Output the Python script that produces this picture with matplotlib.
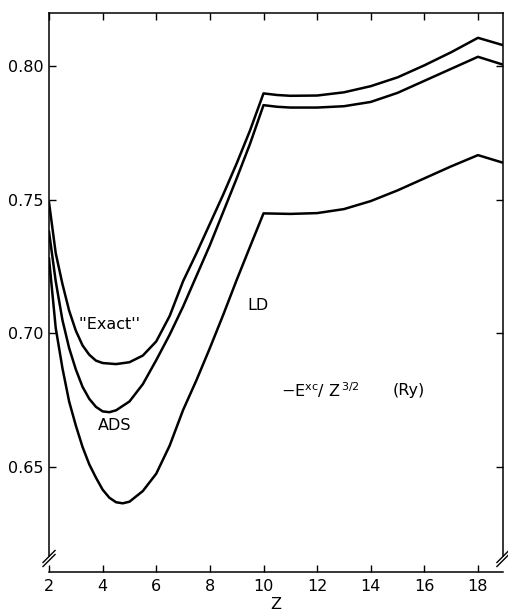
import numpy as np
import matplotlib
matplotlib.use('Agg')
import matplotlib.pyplot as plt

plt.rcParams['font.family'] = ['DejaVu Sans']
plt.rcParams['mathtext.default'] = 'regular'

# Valores: -E_xc / Z^(3/2) en Ry frente a Z
z_exact = [2.0, 2.25, 2.5, 2.75, 3.0, 3.25, 3.5, 3.75, 4.0, 4.5, 5.0, 5.5, 6.0, 6.5, 7.0,
           7.5, 8.0, 8.5, 9.0, 9.5, 10.0, 10.5, 11, 12, 13, 14, 15, 16, 17, 18, 18.95]
e_exact = [0.749, 0.730, 0.7185, 0.7085, 0.701, 0.6955, 0.692, 0.6898, 0.6889, 0.6885,
           0.6892, 0.6917, 0.697, 0.7065, 0.7195, 0.730, 0.741, 0.752, 0.7636, 0.776,
           0.7898, 0.7892, 0.7889, 0.789, 0.7902, 0.7925, 0.7958, 0.8003, 0.8052, 0.8106, 0.8078]

z_ads = [2.0, 2.25, 2.5, 2.75, 3.0, 3.25, 3.5, 3.75, 4.0, 4.25, 4.5, 5.0, 5.5, 6.0, 6.5, 7.0,
         7.5, 8.0, 8.5, 9.0, 9.5, 10.0, 10.5, 11, 12, 13, 14, 15, 16, 17, 18, 18.95]
e_ads = [0.738, 0.7195, 0.705, 0.6945, 0.6865, 0.680, 0.6755, 0.6725, 0.6708, 0.6705,
         0.6712, 0.6745, 0.681, 0.690, 0.6995, 0.710, 0.7215, 0.733, 0.7455, 0.758, 0.771,
         0.7854, 0.7848, 0.7845, 0.7845, 0.7850, 0.7866, 0.790, 0.7945, 0.799, 0.8035, 0.8005]

z_ld = [2.0, 2.25, 2.5, 2.75, 3.0, 3.25, 3.5, 3.75, 4.0, 4.25, 4.5, 4.75, 5.0, 5.5, 6.0, 6.5,
        7.0, 7.5, 8.0, 8.5, 9.0, 9.5, 10.0, 10.5, 11, 12, 13, 14, 15, 16, 17, 18, 18.95]
e_ld = [0.728, 0.702, 0.687, 0.6745, 0.6655, 0.6575, 0.651, 0.646, 0.6415, 0.6385, 0.6368,
        0.6364, 0.637, 0.641, 0.6475, 0.658, 0.6713, 0.6825, 0.6945, 0.707, 0.720, 0.7325,
        0.7449, 0.7448, 0.7447, 0.745, 0.7465, 0.7495, 0.7535, 0.758, 0.7625, 0.7667, 0.7638]

x_ticks = [2, 4, 6, 8, 10, 12, 14, 16, 18]
y_ticks = [0.65, 0.70, 0.75, 0.80]

fig = plt.figure(figsize=(5.08, 6.13), dpi=100)
ax = fig.add_axes([0.0965, 0.0669, 0.8935, 0.9124])

for z, e in [(z_exact, e_exact), (z_ads, e_ads), (z_ld, e_ld)]:
    ax.plot(z, e, color='black', lw=1.8, solid_joinstyle='round')

ax.set_xlim(2, 18.93)
ax.set_ylim(0.6107, 0.820)
ax.set_xticks(x_ticks)
ax.set_yticks(y_ticks)
ax.set_yticklabels([f'{v:.2f}' for v in y_ticks])
ax.tick_params(direction='in', length=5, width=1.0, labelsize=11.5,
               top=True, right=True, colors='black')
ax.tick_params(axis='x', pad=5)
ax.tick_params(axis='y', pad=4)
ax.set_xlabel('Z', fontsize=11.5, labelpad=2)

for s in ax.spines.values():
    s.set_linewidth(1.1)

# eje cortado abajo
y_break = 0.6165
ax.spines['left'].set_bounds(y_break, 0.820)
ax.spines['right'].set_bounds(y_break, 0.820)
yb = (y_break - 0.6107) / (0.820 - 0.6107)
dx, dy = 6 / 454, 6 / 559
for xb in [0, 1]:
    for off in [0, -4 / 559]:
        ax.plot([xb - dx, xb + dx], [yb + off - dy, yb + off + dy],
                transform=ax.transAxes, color='black', lw=1.0, clip_on=False)

# etiquetas de las curvas
ax.text(4.25, 0.7035, "''Exact''", fontsize=11.5, ha='center', va='center')
ax.text(4.43, 0.6657, 'ADS', fontsize=11.5, ha='center', va='center')
ax.text(9.8, 0.7106, 'LD', fontsize=11.5, ha='center', va='center')
ax.text(10.67, 0.6786, r'$-E^{xc}$/ $Z^{\,3/2}$', fontsize=11.5, ha='left', va='center')
ax.text(14.8, 0.6786, '(Ry)', fontsize=11.5, ha='left', va='center')

fig.savefig('out.png', dpi=100)
